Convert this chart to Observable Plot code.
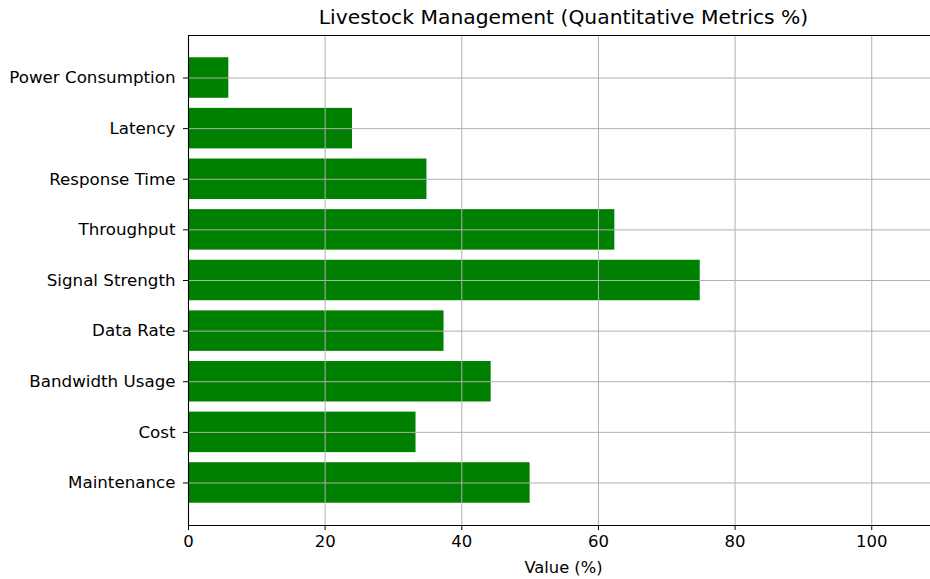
<!DOCTYPE html>
<html>
<head>
<meta charset="utf-8">
<script src="https://cdn.jsdelivr.net/npm/d3@7"></script>
<script src="https://cdn.jsdelivr.net/npm/@observablehq/plot@0.6"></script>
<style>
  html, body { margin: 0; padding: 0; background: #fff; }
  #chart { width: 930px; height: 579px; }
  svg { font-family: "DejaVu Sans", sans-serif; }
</style>
</head>
<body>
<div id="chart"></div>
<script>
const categories = ["Power Consumption", "Latency", "Response Time", "Throughput", "Signal Strength", "Data Rate", "Bandwidth Usage", "Cost", "Maintenance"];
const values = [5.9, 24.0, 34.9, 62.4, 74.9, 37.4, 44.3, 33.3, 50.0];
const xTicks = [0, 20, 40, 60, 80, 100];
const title = "Livestock Management (Quantitative Metrics %)";
const xLabel = "Value (%)";

const data = categories.map((c, i) => ({category: c, value: values[i]}));

const chart = Plot.plot({
  width: 930,
  height: 579,
  marginLeft: 188,
  marginRight: 0,
  marginTop: 35,
  marginBottom: 54,
  style: {fontFamily: "DejaVu Sans, sans-serif", fontSize: "16.7px", color: "#000", background: "#fff"},
  x: {domain: [0, 108.6], ticks: xTicks, label: null},
  y: {domain: categories, paddingInner: 0.2, paddingOuter: 0.44, round: false, label: null},
  marks: [
    Plot.barX(data, {x: "value", y: "category", fill: "#008000"}),
    Plot.gridX(xTicks, {stroke: "#b0b0b0", strokeOpacity: 1, strokeWidth: 1}),
    Plot.gridY(categories, {stroke: "#b0b0b0", strokeOpacity: 1, strokeWidth: 1}),
    Plot.axisX(xTicks, {tickSize: 5, tickPadding: 5, fontSize: 16.5, label: null, stroke: "#000"}),
    Plot.axisY({tickSize: 5, tickPadding: 8, fontSize: 16.7, label: null, stroke: "#000"}),
    Plot.frame({anchor: "left", stroke: "#000", strokeWidth: 1.1}),
    Plot.frame({anchor: "top", stroke: "#000", strokeWidth: 1.1}),
    Plot.frame({anchor: "bottom", stroke: "#000", strokeWidth: 1.1}),
    Plot.text([title], {frameAnchor: "top", lineAnchor: "middle", dx: 4, dy: -18, fontSize: 20.3, fill: "#000"}),
    Plot.text([xLabel], {frameAnchor: "bottom", lineAnchor: "middle", dx: 4, dy: 42, fontSize: 16.3, fill: "#000"})
  ]
});
document.getElementById("chart").appendChild(chart);
</script>
</body>
</html>
